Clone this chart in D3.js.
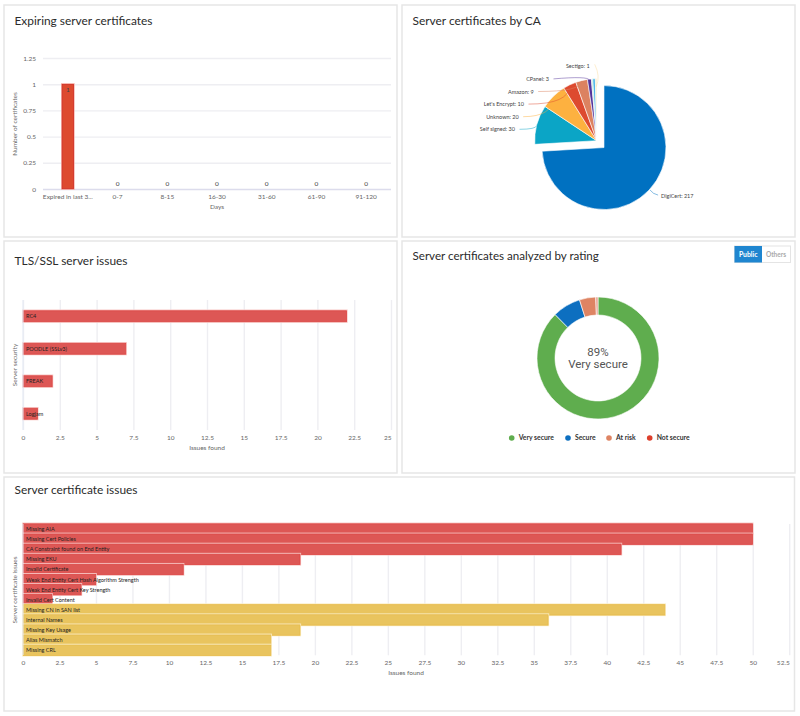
<!DOCTYPE html>
<html>
<head>
<meta charset="utf-8">
<script src="https://cdn.jsdelivr.net/npm/d3@7"></script>
<style>
  html, body { margin: 0; padding: 0; background: #fff; }
  text { font-family: Lato, "Open Sans", sans-serif; }
  .tick text { fill: #666; font-size: 6.5px; }
  .tick line { stroke: #eeeef2; stroke-width: 1.4; }
  .title { fill: #2b2b2b; font-size: 11.9px; }
  .axis-title { fill: #666; font-size: 6.5px; }
  .bar-label { fill: #222; font-size: 5.5px; }
  .pie-label { fill: #444; font-size: 5.5px; }
</style>
</head>
<body>
<svg id="page" width="800" height="716"></svg>
<script>
// chart 1
var expiryDays = ["Expired in last 3...", "0-7", "8-15", "16-30", "31-60", "61-90", "91-120"];
var expiryCounts = [1, 0, 0, 0, 0, 0, 0];
var expiryTicks = [0, 0.25, 0.5, 0.75, 1, 1.25];

// chart 2, the names left empty have no label in the picture
var caNames = ["DigiCert", "Self signed", "Unknown", "Let's Encrypt", "Amazon", "CPanel", "", "", "Sectigo"];
var caCounts = [217, 30, 20, 10, 9, 3, 1, 2, 1];
var caColors = ["#0071c1", "#0ba5c6", "#fdb140", "#dd4a2f", "#dc8260", "#54349a", "#a9dcc8", "#4fb8e8", "#fbdc9c"];

// chart 3
var tlsNames = ["RC4", "POODLE (SSLv3)", "FREAK", "Logjam"];
var tlsCounts = [22, 7, 2, 1];
var tlsTicks = [0, 2.5, 5, 7.5, 10, 12.5, 15, 17.5, 20, 22.5, 25];

// chart 4
var ratingNames = ["Very secure", "Secure", "At risk", "Not secure"];
var ratingShares = [87.6, 7.5, 4.3, 0.6];
var ratingColors = ["#5fad4e", "#0d6fc0", "#de8463", "#e9a090"];
var ratingLegendColors = ["#5fad4e", "#0d6fc0", "#de8463", "#dd3f2c"];

// chart 5
var certNames = ["Missing AIA", "Missing Cert Policies", "CA Constraint found on End Entity", "Missing EKU", "Invalid Certificate",
  "Weak End Entity Cert Hash Algorithm Strength", "Weak End Entity Cert Key Strength", "Invalid Cert Content",
  "Missing CN in SAN list", "Internal Names", "Missing Key Usage", "Alias Mismatch", "Missing CRL"];
var certCounts = [50, 50, 41, 19, 11, 5, 4, 2, 44, 36, 19, 17, 17];
var certLevels = ["high", "high", "high", "high", "high", "high", "high", "high", "mid", "mid", "mid", "mid", "mid"];
var certTicks = d3.range(0, 53, 2.5);

var barColors = {
  high: { fill: "#dd5755", edge: "#dc4644", halo: "#f7c6c4" },
  mid: { fill: "#e9c45e", edge: "#e6bb4a", halo: "#fbeec8" },
  expired: { fill: "#dd4a2f", edge: "#cf2f25", halo: "#f5aaa0" }
};

var svg = d3.select("#page");

function panel(x, y, w, h, title, titleY) {
  svg.append("rect")
    .attr("x", x).attr("y", y).attr("width", w).attr("height", h)
    .attr("fill", "#fff").attr("stroke", "#e6e6e6").attr("stroke-width", 1.5);
  return svg.append("text").attr("class", "title")
    .attr("x", x + 10.5).attr("y", titleY).text(title);
}

function axisTitle(x, y, text, rotated) {
  svg.append("text").attr("class", "axis-title")
    .attr("text-anchor", "middle")
    .attr("transform", "translate(" + x + "," + y + ")" + (rotated ? " rotate(-90)" : ""))
    .text(text);
}

// light outer edge first, then the bar with its darker edge
function drawBars(sel, x, y, w, h, colors) {
  sel.append("rect")
    .attr("x", function(d, i){ return x(d, i) - 0.8; })
    .attr("y", function(d, i){ return y(d, i) - 1; })
    .attr("width", function(d, i){ return w(d, i) + 1.6; })
    .attr("height", function(d, i){ return h(d, i) + 1.8; })
    .attr("fill", function(d, i){ return colors(d, i).halo; });
  sel.append("rect")
    .attr("x", function(d, i){ return x(d, i) + 0.3; })
    .attr("y", function(d, i){ return y(d, i) + 0.3; })
    .attr("width", function(d, i){ return w(d, i) - 0.6; })
    .attr("height", function(d, i){ return h(d, i) - 0.6; })
    .attr("fill", function(d, i){ return colors(d, i).fill; })
    .attr("stroke", function(d, i){ return colors(d, i).edge; })
    .attr("stroke-width", 0.8);
}

// horizontal bars, used by the TLS and the certificate issues charts
function hBars(names, counts, levels, ticks, maxValue, xRange, yRange, barHeight) {
  var xScale = d3.scaleLinear().domain([0, maxValue]).range(xRange);
  var yScale = d3.scaleBand().domain(names).range(yRange);
  var top = yRange[0], bottom = yRange[1];

  var xAxis = svg.append("g")
    .attr("transform", "translate(0," + bottom + ")")
    .call(d3.axisBottom(xScale).tickValues(ticks).tickSize(top - bottom).tickPadding(5)
      .tickFormat(d3.format("~g")));
  xAxis.select(".domain").remove();
  xAxis.selectAll(".tick").filter(function(d){ return d === ticks[ticks.length - 1]; })
    .select("text").attr("text-anchor", "end");

  var groups = svg.append("g").selectAll("g").data(names).enter().append("g");
  drawBars(groups,
    function(){ return xRange[0]; },
    function(d){ return yScale(d) + (yScale.bandwidth() - barHeight) / 2; },
    function(d, i){ return xScale(counts[i]) - xRange[0]; },
    function(){ return barHeight; },
    function(d, i){ return barColors[levels[i]]; });

  svg.append("g").selectAll("text").data(names).enter().append("text")
    .attr("class", "bar-label")
    .attr("x", xRange[0] + 3)
    .attr("y", function(d){ return yScale(d) + yScale.bandwidth() / 2 + 2; })
    .text(function(d){ return d; });
}

// ---- Expiring server certificates
panel(4, 5, 393, 232, "Expiring server certificates", 24.5);

var x1 = d3.scaleBand().domain(expiryDays).range([43, 391]).paddingInner(0.76).paddingOuter(0.38);
var y1 = d3.scaleLinear().domain([0, 1.25]).range([189, 58]);

var y1Axis = svg.append("g")
  .attr("transform", "translate(43,0)")
  .call(d3.axisLeft(y1).tickValues(expiryTicks).tickSize(-348).tickPadding(7).tickFormat(d3.format("~g")));
y1Axis.select(".domain").remove();
y1Axis.selectAll(".tick").filter(function(d){ return d === 0; }).select("line").style("stroke", "#dcdcec");

var x1Axis = svg.append("g")
  .attr("transform", "translate(0,189)")
  .call(d3.axisBottom(x1).tickSize(0).tickPadding(5));
x1Axis.select(".domain").remove();

var g1 = svg.append("g").selectAll("g").data(expiryDays).enter().append("g");
drawBars(g1.filter(function(d, i){ return expiryCounts[i] > 0; }),
  function(d){ return x1(d); },
  function(d){ return y1(expiryCounts[expiryDays.indexOf(d)]); },
  function(){ return x1.bandwidth(); },
  function(d){ return 189 - y1(expiryCounts[expiryDays.indexOf(d)]); },
  function(){ return barColors.expired; });

svg.append("g").selectAll("text").data(expiryCounts).enter().append("text")
  .attr("text-anchor", "middle")
  .attr("x", function(d, i){ return x1(expiryDays[i]) + x1.bandwidth() / 2; })
  .attr("y", function(d){ return d > 0 ? y1(d) + 8 : y1(d) - 3; })
  .attr("fill", "#444").attr("font-size", 6.5)
  .text(function(d){ return d; });

axisTitle(217, 209, "Days");
axisTitle(17, 124, "Number of certificates", true);

// ---- Server certificates by CA
panel(402, 5, 393, 232, "Server certificates by CA", 24.5);

var pieCx = 596.7, pieCy = 140.7, pieR = 62, pullOut = 10;
var pieLayout = d3.pie().sort(null)(caCounts);
var arc2 = d3.arc().innerRadius(0).outerRadius(pieR);

// right end of each label on the left side, the rows step up from the Self signed label
var labelEnds = { 1: 515, 2: 518.7, 3: 524, 4: 533.7, 5: 549, 8: 589.7 };
var rowStep = 12.6, rowStart = 129.3;

svg.append("g").selectAll("path").data(pieLayout).enter().append("path")
  .attr("d", arc2)
  .attr("fill", function(d, i){ return caColors[i]; })
  .attr("stroke", "#fff").attr("stroke-width", 0.6)
  .attr("transform", function(d, i){
    var mid = (d.startAngle + d.endAngle) / 2;
    var off = i === 0 ? pullOut : 0;
    return "translate(" + (pieCx + off * Math.sin(mid)) + "," + (pieCy - off * Math.cos(mid)) + ")";
  });

var rowIndex = 0;
pieLayout.forEach(function(d, i){
  if (!caNames[i]) return;
  var mid = (d.startAngle + d.endAngle) / 2;
  var label = caNames[i] + ": " + caCounts[i];
  var text = svg.append("text").attr("class", "pie-label").text(label);
  var path = d3.path();
  if (i === 0) {
    var ox = pieCx + pullOut * Math.sin(mid), oy = pieCy - pullOut * Math.cos(mid);
    var sx = ox + pieR * Math.sin(mid), sy = oy - pieR * Math.cos(mid);
    text.attr("x", sx + 12).attr("y", sy + 7.5);
    path.moveTo(sx + 1, sy);
    path.quadraticCurveTo(sx + 4, sy + 4, sx + 9, sy + 5);
  } else {
    var rowY = rowStart - rowStep * rowIndex;
    rowIndex++;
    var end = labelEnds[i];
    var tx = pieCx + pieR * Math.sin(mid), ty = pieCy - pieR * Math.cos(mid);
    text.attr("x", end).attr("y", rowY + 2).attr("text-anchor", "end");
    if (i === 8) {
      // Sectigo runs down the top of the pie from above its label
      path.moveTo(end + 5, rowY - 2);
      path.quadraticCurveTo(end + 11, rowY + 10, tx + 0.2, ty + 8);
    } else {
      path.moveTo(end + 4.5, rowY);
      path.quadraticCurveTo(tx - 1, Math.max(rowY, ty - 5) - (i === 5 ? 3 : 0), tx, ty + 1);
    }
  }
  svg.append("path").attr("d", path.toString())
    .attr("fill", "none").attr("stroke", caColors[i]).attr("stroke-width", 0.8).attr("opacity", 0.6);
});

// ---- TLS/SSL server issues
panel(4, 241, 393, 232, "TLS/SSL server issues", 265);
hBars(tlsNames, tlsCounts, ["high", "high", "high", "high"], tlsTicks, 25, [23, 391], [300, 430], 11.5);
svg.append("line").attr("x1", 23).attr("x2", 23).attr("y1", 300).attr("y2", 430)
  .attr("stroke", "#e3e9f3").attr("stroke-width", 1);
axisTitle(207, 450, "Issues found");
axisTitle(17, 365, "Server security", true);

// ---- Server certificates analyzed by rating
panel(402, 241, 393, 232, "Server certificates analyzed by rating", 260).style("font-size", "11.6px");

var donutArc = d3.arc().innerRadius(43).outerRadius(61);
var donut = svg.append("g").attr("transform", "translate(598,358)");
donut.selectAll("path").data(d3.pie().sort(null)(ratingShares)).enter().append("path")
  .attr("d", donutArc)
  .attr("fill", function(d, i){ return ratingColors[i]; })
  .attr("stroke", "#fff").attr("stroke-width", 0.6);

donut.append("text").attr("text-anchor", "middle").attr("y", -2.5)
  .attr("fill", "#555").attr("font-size", 11.5).style("font-family", "Roboto").text("89%");
donut.append("text").attr("text-anchor", "middle").attr("y", 10)
  .attr("fill", "#555").attr("font-size", 11.5).style("font-family", "Roboto").text("Very secure");

// legend, dots are placed by the width of the labels before them
var legendGaps = [0, 56.3, 41, 40.7];
var legendX = 511.7;
ratingNames.forEach(function(name, i){
  legendX += legendGaps[i];
  svg.append("circle").attr("cx", legendX).attr("cy", 438).attr("r", 2.8).attr("fill", ratingLegendColors[i]);
  svg.append("text").attr("x", legendX + 7).attr("y", 440.3)
    .attr("fill", "#333").attr("font-size", 6.8).attr("font-weight", 700).text(name);
});

// Public / Others toggle
svg.append("rect").attr("x", 734.5).attr("y", 246).attr("width", 56).attr("height", 16.5)
  .attr("fill", "#fff").attr("stroke", "#e4e4e4").attr("stroke-width", 1);
svg.append("rect").attr("x", 734.5).attr("y", 246).attr("width", 27.5).attr("height", 16.5).attr("fill", "#1f86d0");
svg.append("text").attr("x", 748.2).attr("y", 256.5).attr("text-anchor", "middle")
  .attr("fill", "#fff").attr("font-size", 6.8).attr("font-weight", 700).text("Public");
svg.append("text").attr("x", 776).attr("y", 256.5).attr("text-anchor", "middle")
  .attr("fill", "#aaa").attr("font-size", 6.5).attr("font-weight", 700).text("Others");

// ---- Server certificate issues
panel(4, 477, 790.5, 234, "Server certificate issues", 494);
hBars(certNames, certCounts, certLevels, certTicks, 52.5, [23, 789.2], [524, 655.3], 11);
svg.append("line").attr("x1", 23).attr("x2", 23).attr("y1", 524).attr("y2", 655)
  .attr("stroke", "#e3e9f3").attr("stroke-width", 1);
axisTitle(406, 674.5, "Issues found");
axisTitle(17, 590, "Server certificate issues", true);
</script>
</body>
</html>
